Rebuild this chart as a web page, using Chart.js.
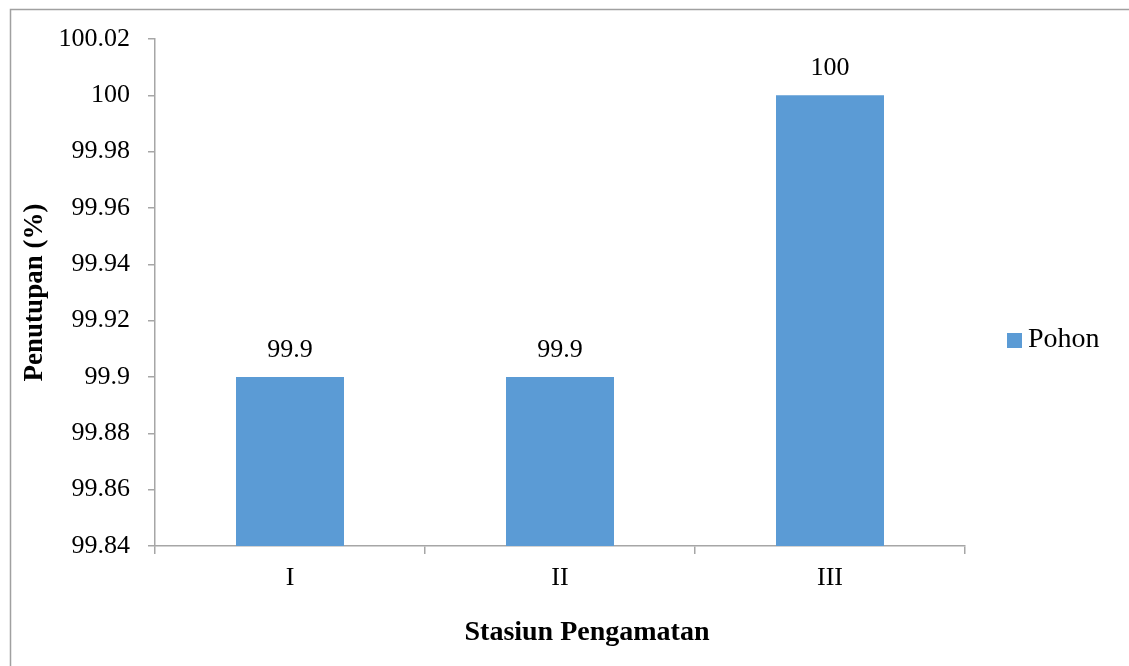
<!DOCTYPE html>
<html>
<head>
<meta charset="utf-8">
<script src="https://cdn.jsdelivr.net/npm/chart.js@4.4.1/dist/chart.umd.min.js"></script>
<style>
  html, body { margin: 0; padding: 0; background: #ffffff; }
  #wrap { width: 1129px; height: 666px; position: relative; }
</style>
</head>
<body>
<div id="wrap"><canvas id="chart" width="1129" height="666"></canvas></div>
<script>
// Penutupan pohon per stasiun pengamatan
const stations = ['I', 'II', 'III'];
const pohonValues = [99.9, 99.9, 100];
const seriesName = 'Pohon';
const yTickValues = [99.84, 99.86, 99.88, 99.9, 99.92, 99.94, 99.96, 99.98, 100, 100.02];
const yTitle = 'Penutupan (%)';
const xTitle = 'Stasiun Pengamatan';

const FONT = '"Liberation Serif", "Times New Roman", serif';
const BAR_COLOR = '#5B9BD5';
const AXIS_COLOR = '#A6A6A6';
const fmt = v => String(Number(v.toFixed(2)));

// Frame, axis titles, value labels and legend
const decor = {
  id: 'decor',
  beforeDraw(chart) {
    const ctx = chart.ctx;
    ctx.save();
    ctx.fillStyle = '#ffffff';
    ctx.fillRect(0, 0, chart.width, chart.height);
    ctx.strokeStyle = '#A0A0A0';
    ctx.lineWidth = 1.5;
    ctx.beginPath();
    ctx.moveTo(10.5, chart.height);
    ctx.lineTo(10.5, 9.5);
    ctx.lineTo(chart.width, 9.5);
    ctx.stroke();
    ctx.restore();
  },
  afterDatasetsDraw(chart) {
    const ctx = chart.ctx;
    const area = chart.chartArea;
    ctx.save();
    ctx.fillStyle = '#000000';
    // value labels above bars
    ctx.font = '26px ' + FONT;
    ctx.textAlign = 'center';
    ctx.textBaseline = 'middle';
    const meta = chart.getDatasetMeta(0);
    meta.data.forEach((bar, i) => {
      ctx.fillText(fmt(chart.data.datasets[0].data[i]), bar.x, bar.y - 27);
    });
    // y-axis title
    ctx.font = 'bold 27px ' + FONT;
    ctx.save();
    ctx.translate(35, (area.top + area.bottom) / 2);
    ctx.rotate(-Math.PI / 2);
    ctx.fillText(yTitle, 0, 0);
    ctx.restore();
    // x-axis title
    ctx.font = 'bold 28px ' + FONT;
    ctx.fillText(xTitle, 587, 633);
    // legend
    ctx.fillStyle = BAR_COLOR;
    ctx.fillRect(1007, 333, 15, 15);
    ctx.fillStyle = '#000000';
    ctx.font = '28px ' + FONT;
    ctx.textAlign = 'left';
    ctx.fillText(chart.data.datasets[0].label, 1028, 340);
    ctx.restore();
  }
};

new Chart(document.getElementById('chart'), {
  type: 'bar',
  data: {
    labels: stations,
    datasets: [{
      label: seriesName,
      data: pohonValues,
      backgroundColor: BAR_COLOR,
      borderWidth: 0,
      barPercentage: 0.4,
      categoryPercentage: 1.0
    }]
  },
  options: {
    responsive: false,
    animation: false,
    layout: { padding: { top: 39, right: 164, left: 0, bottom: 0 } },
    plugins: {
      legend: { display: false },
      tooltip: { enabled: false }
    },
    scales: {
      x: {
        offset: true,
        grid: {
          display: true,
          offset: true,
          drawOnChartArea: false,
          drawTicks: true,
          tickLength: 8,
          color: AXIS_COLOR,
          lineWidth: 1.5
        },
        border: { display: true, color: AXIS_COLOR, width: 1.5 },
        ticks: {
          color: '#000000',
          font: { family: FONT, size: 26 },
          padding: 9
        },
        afterFit(scale) { scale.height = 120; }
      },
      y: {
        min: yTickValues[0],
        max: yTickValues[yTickValues.length - 1],
        afterBuildTicks(scale) {
          scale.ticks = yTickValues.map(v => ({ value: v }));
        },
        grid: {
          display: true,
          drawOnChartArea: false,
          drawTicks: true,
          tickLength: 7,
          color: AXIS_COLOR,
          lineWidth: 1.5
        },
        border: { display: true, color: AXIS_COLOR, width: 1.5 },
        ticks: {
          color: '#000000',
          font: { family: FONT, size: 26 },
          padding: 18,
          callback: v => fmt(v)
        },
        afterFit(scale) { scale.width = 155; }
      }
    }
  },
  plugins: [decor]
});
</script>
</body>
</html>
